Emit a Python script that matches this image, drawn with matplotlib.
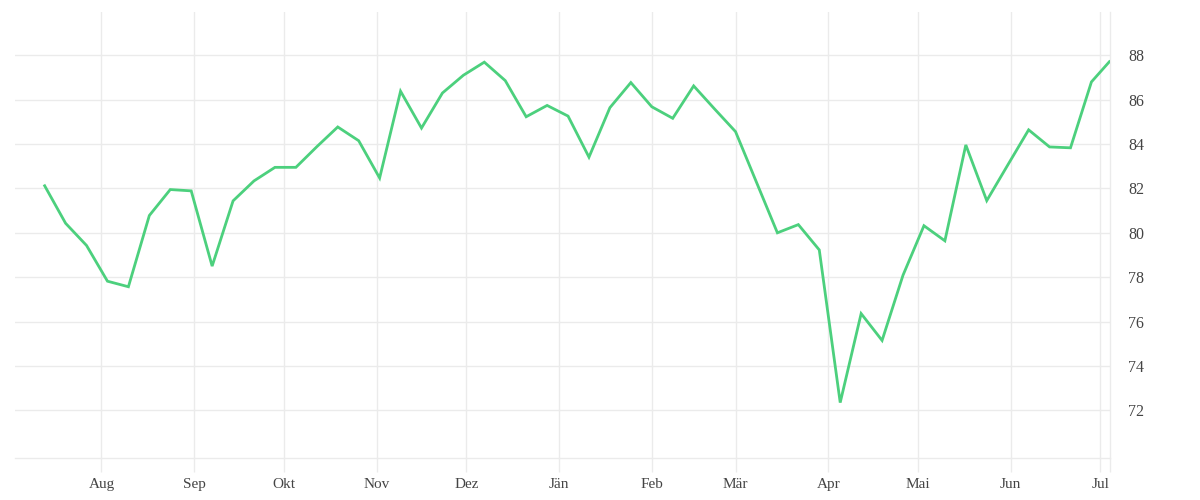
import matplotlib
matplotlib.use("Agg")

import matplotlib.pyplot as plt
import matplotlib.dates as mdates
import matplotlib.ticker as mticker
import numpy as np
import pandas as pd

# weekly readings, mid July to early July
dates = list(pd.date_range("2022-07-13", periods=51, freq="7D")) + [pd.Timestamp("2023-07-04")]
values = [
    82.12, 80.43, 79.43, 77.82, 77.57, 80.78, 81.95, 81.89, 78.50, 81.44,
    82.34, 82.95, 82.95, 83.88, 84.77, 84.15, 82.47, 86.38, 84.72, 86.30,
    87.10, 87.69, 86.86, 85.23, 85.74, 85.26, 83.41, 85.64, 86.77, 85.68,
    85.16, 86.62, 85.58, 84.56, 82.28, 80.00, 80.37, 79.23, 72.35, 76.36,
    75.15, 78.09, 80.32, 79.64, 83.96, 81.45, 83.05, 84.64, 83.87, 83.83,
    86.80, 87.71,
]
month_names = ["Jän", "Feb", "Mär", "Apr", "Mai", "Jun",
               "Jul", "Aug", "Sep", "Okt", "Nov", "Dez"]
y_ticks = [72, 74, 76, 78, 80, 82, 84, 86, 88]

line_color = "#4cd07d"
grid_color = "#ebebeb"
text_color = "#444444"

plt.rcParams["font.family"] = ["Liberation Serif", "DejaVu Serif"]

fig = plt.figure(figsize=(12, 5), dpi=100)
# axes rect in pixels: x 15..1110, y 12..458 (from top)
ax = fig.add_axes([15 / 1200, (500 - 458.3) / 500, (1110 - 15) / 1200, (458.3 - 12) / 500])

ax.plot(dates, values, color=line_color, linewidth=2.0, solid_joinstyle="miter", zorder=3)

x_left = pd.Timestamp("2022-07-03 02:00")
x_right = pd.Timestamp("2023-07-04 05:00")
ax.set_xlim(x_left, x_right)
ax.set_ylim(69.84, 89.95)

# x axis: month ticks, German labels
ax.xaxis.set_major_locator(mdates.MonthLocator())
ax.xaxis.set_major_formatter(
    mticker.FuncFormatter(lambda v, pos: month_names[mdates.num2date(v).month - 1])
)
ax.set_xticks([mdates.date2num(x_right)], minor=True)
ax.tick_params(axis="x", which="both", direction="out", length=10, width=1,
               color=grid_color, labelsize=11, labelcolor=text_color, pad=4)
ax.tick_params(axis="x", which="minor", labelbottom=False)

# y axis on the right, no tick marks
ax.set_yticks(y_ticks)
ax.yaxis.tick_right()
ax.tick_params(axis="y", length=0, labelsize=11.5, labelcolor=text_color, pad=13)

ax.grid(True, color=grid_color, linewidth=1)
ax.set_axisbelow(True)

for side in ["left", "top"]:
    ax.spines[side].set_visible(False)
for side in ["right", "bottom"]:
    ax.spines[side].set_color(grid_color)
    ax.spines[side].set_linewidth(1)

fig.savefig("out.png", dpi=100, facecolor="white")
